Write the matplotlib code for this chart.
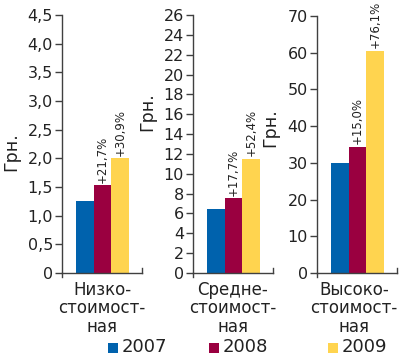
import matplotlib
matplotlib.use("Agg")
import matplotlib.pyplot as plt
from matplotlib.patches import Rectangle

plt.rcParams['font.family'] = ['DejaVu Sans']

categories = ["Низко-\nстоимост-\nная", "Средне-\nстоимост-\nная", "Высоко-\nстоимост-\nная"]
years = ["2007", "2008", "2009"]
values = [
    [1.25, 1.53, 2.0],
    [6.4, 7.53, 11.48],
    [29.9, 34.4, 60.6],
]
growth = [
    ["", "+21,7%", "+30,9%"],
    ["", "+17,7%", "+52,4%"],
    ["", "+15,0%", "+76,1%"],
]
yticks = [
    [0, 0.5, 1.0, 1.5, 2.0, 2.5, 3.0, 3.5, 4.0, 4.5],
    [0, 2, 4, 6, 8, 10, 12, 14, 16, 18, 20, 22, 24, 26],
    [0, 10, 20, 30, 40, 50, 60, 70],
]
ytick_labels = [
    ["0", "0,5", "1,0", "1,5", "2,0", "2,5", "3,0", "3,5", "4,0", "4,5"],
    ["0", "2", "4", "6", "8", "10", "12", "14", "16", "18", "20", "22", "24", "26"],
    ["0", "10", "20", "30", "40", "50", "60", "70"],
]
ylabel = "Грн."
colors = ["#0062AD", "#9A0040", "#FFD44F"]
axcol = "#404040"
txtcol = "#222222"

W, H = 400, 357
fig = plt.figure(figsize=(W / 100, H / 100), dpi=100)

# pixel boxes: left, right, top, bottom
boxes = [(62, 142, 15, 273), (193, 273, 15, 273), (317, 397, 16, 273)]
ylab_pos = [(11, 152), (147, 112), (270, 128)]
cat_center = [102, 233, 354]

for i in range(3):
    l, r, t, b = boxes[i]
    ax = fig.add_axes([l / W, 1 - b / H, (r - l) / W, (b - t) / H])
    xs = list(range(len(years)))
    ax.bar(xs, values[i], width=1.0, color=colors, linewidth=0)
    ax.set_xlim(-1.3, 3.24)
    ax.set_ylim(0, yticks[i][-1])
    ax.set_yticks(yticks[i])
    ax.set_yticklabels(ytick_labels[i], fontsize=11.5, color=txtcol)
    ax.set_xticks([])
    for s in ["top", "right"]:
        ax.spines[s].set_visible(False)
    for s in ["left", "bottom"]:
        ax.spines[s].set_color(axcol)
        ax.spines[s].set_linewidth(1.0)
    ax.tick_params(axis="y", direction="out", length=5, width=1.0, color=axcol, pad=1.5)
    ax.plot([1, 1], [0, 0.02], transform=ax.transAxes, color=axcol, lw=1.0, clip_on=False)
    ax.plot([0, 0], [0, -0.017], transform=ax.transAxes, color=axcol, lw=1.0, clip_on=False)
    ax.patch.set_alpha(0)
    for j, txt in enumerate(growth[i]):
        if txt:
            ax.annotate(txt, (xs[j], values[i][j]), xytext=(0, 2), textcoords="offset points",
                        rotation=90, ha="center", va="bottom", fontsize=8.5, color=txtcol)
    fig.text(cat_center[i] / W, 1 - 281 / H, categories[i], ha="center", va="top",
             fontsize=12, linespacing=1.02, color=txtcol)
    fig.text(ylab_pos[i][0] / W, 1 - ylab_pos[i][1] / H, ylabel, rotation=90,
             ha="center", va="center", fontsize=12.5, color=txtcol)

# legend
leg_x = [108, 209, 328]
for k in range(3):
    x0 = leg_x[k]
    fig.add_artist(Rectangle((x0 / W, 1 - 353 / H), 10 / W, 10 / H, transform=fig.transFigure,
                             color=colors[k], lw=0))
    fig.text((x0 + 14) / W, 1 - 347.5 / H, years[k], ha="left", va="center", fontsize=13,
             color=txtcol)

fig.savefig("out.png", dpi=100)
